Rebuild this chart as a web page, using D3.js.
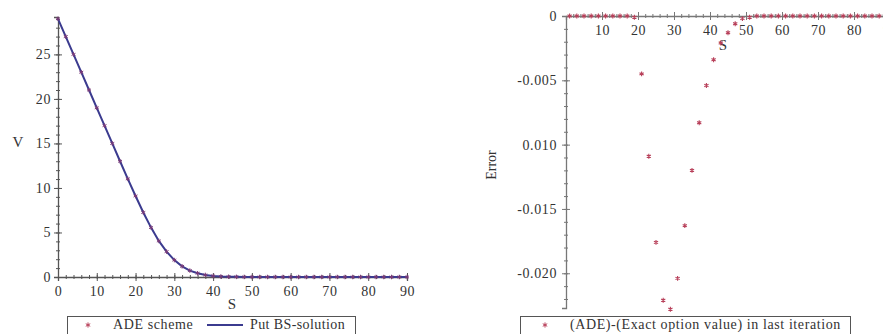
<!DOCTYPE html>
<html>
<head>
<meta charset="utf-8">
<script src="https://cdn.jsdelivr.net/npm/d3@7"></script>
<style>
  body { margin: 0; background: #fff; }
  svg { display: block; }
  text { font-family: "Liberation Serif", "DejaVu Serif", serif; }
</style>
</head>
<body>
<div id="chart"></div>
<script>
// left panel: put value vs S
const putS = [0, 2, 4, 6, 8, 10, 12, 14, 16, 18, 20, 22, 24, 26, 28, 30, 32, 34, 36, 38, 40, 42, 44, 46, 48,
  50, 52, 54, 56, 58, 60, 62, 64, 66, 68, 70, 72, 74, 76, 78, 80, 82, 84, 86, 88, 90]
const putV = [29.0, 27.0, 25.0, 23.0, 21.0, 19.0, 17.0, 15.0, 13.0, 11.02, 9.1, 7.25, 5.55, 4.05, 2.85, 1.9,
  1.2, 0.72, 0.42, 0.23, 0.12, 0.06, 0.03, 0.015, 0.007, 0.003, 0, 0, 0, 0, 0, 0, 0, 0, 0, 0, 0, 0, 0, 0, 0, 0, 0, 0, 0, 0]
// ADE markers sit on the exact curve (difference < 0.03)
const adeS = putS
const adeV = putV

const leftXTicks = [0, 10, 20, 30, 40, 50, 60, 70, 80, 90]
const leftYTicks = [0, 5, 10, 15, 20, 25]

// right panel: error in last iteration
const errS = [1, 3, 5, 7, 9, 11, 13, 15, 17, 19, 21, 23, 25, 27, 29, 31, 33, 35, 37, 39, 41, 43, 45, 47, 49,
  51, 53, 55, 57, 59, 61, 63, 65, 67, 69, 71, 73, 75, 77, 79, 81, 83, 85, 87, 89]
const errV = [0, 0, 0, 0, 0, 0, 0, 0, 0, -0.0001, -0.0045, -0.0109, -0.0176, -0.0221, -0.0228, -0.0204, -0.0163,
  -0.0120, -0.0083, -0.0054, -0.0034, -0.0021, -0.0013, -0.0006, -0.0002, -0.0001,
  0, 0, 0, 0, 0, 0, 0, 0, 0, 0, 0, 0, 0, 0, 0, 0, 0, 0, 0]

const rightXTicks = [10, 20, 30, 40, 50, 60, 70, 80, 90]
const rightYTicks = [0, -0.005, -0.010, -0.015, -0.020]
const rightYLabels = ['0', '-0.005', '0.010', '-0.015', '-0.020']

const width = 883, height = 334
const svg = d3.select('#chart').append('svg')
  .attr('width', width)
  .attr('height', height)
svg.append('rect').attr('width', width).attr('height', height).attr('fill', '#fff')

const fontSize = 14
const lineColor = '#3b3b8f'
const markColor = '#b8405a'
const axisColor = '#555'

function styleAxis(g) {
  g.select('.domain').attr('stroke', axisColor).attr('stroke-width', 1.3)
  g.selectAll('.tick line').attr('stroke', axisColor)
  g.selectAll('.tick text')
    .attr('fill', '#333')
    .style('font-size', fontSize + 'px')
    .style('letter-spacing', '0.6px')
}

// ---------- left panel ----------
let x1 = d3.scaleLinear().domain([0, 90]).range([58, 407])
let y1 = d3.scaleLinear().domain([0, 29.2]).range([277, 17])

// minor ticks
svg.append('g')
  .attr('transform', 'translate(0,277)')
  .call(d3.axisBottom(x1).tickValues(d3.range(0, 91, 2)).tickSize(2).tickFormat(''))
  .call(g => g.select('.domain').remove())
  .call(g => g.selectAll('line').attr('stroke', axisColor).attr('y1', -2))
svg.append('g')
  .attr('transform', 'translate(58,0)')
  .call(d3.axisLeft(y1).tickValues(d3.range(0, 29.1, 1)).tickSize(2).tickFormat(''))
  .call(g => g.select('.domain').remove())
  .call(g => g.selectAll('line').attr('stroke', axisColor).attr('x1', 2))

svg.append('g')
  .attr('transform', 'translate(0,277)')
  .call(d3.axisBottom(x1).tickValues(leftXTicks).tickSize(4).tickPadding(5))
  .call(styleAxis)
  .call(g => g.selectAll('.tick line').attr('y1', -4))
svg.append('g')
  .attr('transform', 'translate(58,0)')
  .call(d3.axisLeft(y1).tickValues(leftYTicks).tickSize(4).tickPadding(3))
  .call(styleAxis)
  .call(g => g.selectAll('.tick line').attr('x1', 4))

svg.append('text').attr('x', 18).attr('y', 147).attr('text-anchor', 'middle')
  .style('font-size', '15px').attr('fill', '#333').text('V')
svg.append('text').attr('x', 232).attr('y', 309).attr('text-anchor', 'middle')
  .style('font-size', '15px').attr('fill', '#333').text('S')

let line = d3.line().x((d, i) => x1(putS[i])).y(d => y1(d))
svg.append('path')
  .datum(putV)
  .attr('d', line)
  .attr('fill', 'none')
  .attr('stroke', lineColor)
  .attr('stroke-width', 2)

let star = d3.symbol().type(d3.symbolAsterisk).size(14)
svg.append('g').selectAll('path')
  .data(adeV)
  .enter()
  .append('path')
  .attr('d', star)
  .attr('transform', (d, i) => 'translate(' + x1(adeS[i]) + ',' + y1(d) + ')')
  .attr('fill', 'none')
  .attr('stroke', '#7a3a78')
  .attr('stroke-width', 1)

// left legend
let leg1 = svg.append('g')
leg1.append('rect').attr('x', 67.5).attr('y', 316.5).attr('width', 288).attr('height', 20)
  .attr('fill', 'none').attr('stroke', axisColor)
leg1.append('path').attr('d', d3.symbol().type(d3.symbolAsterisk).size(18))
  .attr('transform', 'translate(88,325)')
  .attr('fill', 'none').attr('stroke', markColor)
leg1.append('text').attr('x', 113).attr('y', 329).style('font-size', fontSize + 'px')
  .style('letter-spacing', '0.6px').attr('fill', '#333').text('ADE scheme')
leg1.append('line').attr('x1', 207).attr('x2', 243).attr('y1', 325).attr('y2', 325)
  .attr('stroke', lineColor).attr('stroke-width', 2)
leg1.append('text').attr('x', 250).attr('y', 329).style('font-size', fontSize + 'px')
  .style('letter-spacing', '0.4px').attr('fill', '#333').text('Put BS-solution')

// ---------- right panel ----------
let x2 = d3.scaleLinear().domain([0, 90]).range([566, 890])
let y2 = d3.scaleLinear().domain([-0.0227, 0]).range([308, 16])
let axis2Color = '#777'

svg.append('g')
  .attr('transform', 'translate(0,16)')
  .call(d3.axisBottom(x2).tickValues(d3.range(2, 91, 2)).tickSize(2).tickFormat(''))
  .call(g => g.select('.domain').remove())
  .call(g => g.selectAll('line').attr('stroke', axis2Color).attr('y1', -2))
svg.append('g')
  .attr('transform', 'translate(566,0)')
  .call(d3.axisLeft(y2).tickValues(d3.range(0, -0.0226, -0.001)).tickSize(2).tickFormat(''))
  .call(g => g.select('.domain').remove())
  .call(g => g.selectAll('line').attr('stroke', axis2Color).attr('x1', 2))

svg.append('g')
  .attr('transform', 'translate(0,16)')
  .call(d3.axisBottom(x2).tickValues(rightXTicks).tickSize(4).tickPadding(5))
  .call(styleAxis)
  .call(g => g.select('.domain').attr('stroke', axis2Color))
  .call(g => g.selectAll('.tick line').attr('y1', -4).attr('stroke', axis2Color))
svg.append('g')
  .attr('transform', 'translate(566,0)')
  .call(d3.axisLeft(y2).tickValues(rightYTicks).tickSize(4).tickPadding(5)
    .tickFormat((d, i) => rightYLabels[i]))
  .call(styleAxis)
  .call(g => g.select('.domain').attr('stroke', axis2Color))
  .call(g => g.selectAll('.tick line').attr('x1', 4).attr('stroke', axis2Color))

svg.append('text').attr('transform', 'translate(496,165) rotate(-90)').attr('text-anchor', 'middle')
  .style('font-size', '14px').attr('fill', '#333').text('Error')
svg.append('text').attr('x', 723).attr('y', 50).attr('text-anchor', 'middle')
  .style('font-size', '15px').attr('fill', '#333').text('S')

let star2 = d3.symbol().type(d3.symbolAsterisk).size(16)
svg.append('g').selectAll('path')
  .data(errV)
  .enter()
  .append('path')
  .attr('d', star2)
  .attr('transform', (d, i) => 'translate(' + x2(errS[i]) + ',' + y2(d) + ')')
  .attr('fill', 'none')
  .attr('stroke', markColor)
  .attr('stroke-width', 1.1)

// right legend
svg.append('clipPath').attr('id', 'legclip')
  .append('rect').attr('x', 520).attr('y', 316).attr('width', 330).attr('height', 20)
let leg2 = svg.append('g').attr('clip-path', 'url(#legclip)')
leg2.append('path').attr('d', d3.symbol().type(d3.symbolAsterisk).size(18))
  .attr('transform', 'translate(545,325)')
  .attr('fill', 'none').attr('stroke', markColor)
leg2.append('text').attr('x', 570).attr('y', 329).style('font-size', fontSize + 'px')
  .style('letter-spacing', '0.6px').attr('fill', '#333').text('(ADE)-(Exact option value) in last iteration')
svg.append('rect').attr('x', 520.5).attr('y', 316.5).attr('width', 330).attr('height', 20)
  .attr('fill', 'none').attr('stroke', axisColor)
</script>
</body>
</html>
